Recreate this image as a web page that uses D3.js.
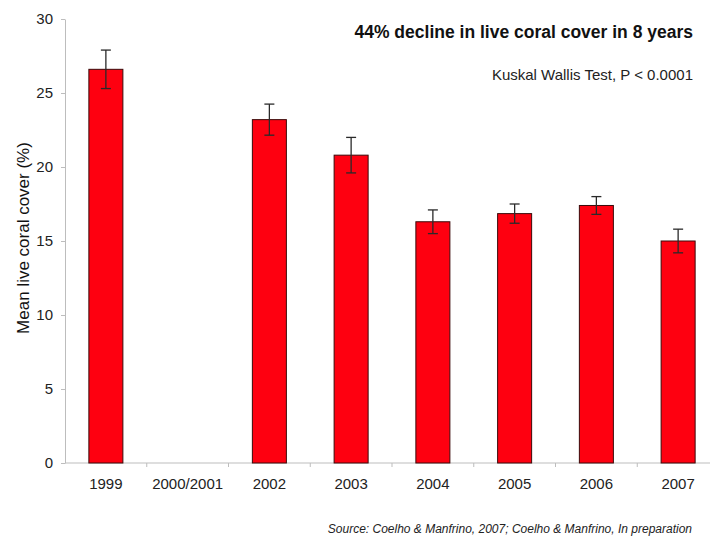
<!DOCTYPE html>
<html lang="en">
<head>
<meta charset="UTF-8">
<title>Live coral cover</title>
<script src="https://d3js.org/d3.v7.min.js"></script>
<style>
  body { margin: 0; background: #fff; }
  svg { display: block; font-family: "Liberation Sans", Arial, sans-serif; }
</style>
</head>
<body>
<svg width="710" height="540"></svg>
<script>
// data
const years = ["1999", "2000/2001", "2002", "2003", "2004", "2005", "2006", "2007"];
const cover = [26.6, null, 23.2, 20.8, 16.3, 16.85, 17.4, 15.0];
const stdErr = [1.3, null, 1.05, 1.2, 0.8, 0.65, 0.6, 0.8];
const yTicks = [0, 5, 10, 15, 20, 25, 30];

let svg = d3.select("svg")
let plotLeft = 65, plotRight = 719, plotTop = 19, plotBottom = 463

let x = d3.scaleBand()
    .domain(years)
    .range([plotLeft, plotRight])
    .paddingInner(0.584)
    .paddingOuter(0.292)
let y = d3.scaleLinear().domain([0, 30]).range([plotBottom, plotTop])

let rows = years.map(function (d, i) { return { year: d, v: cover[i], e: stdErr[i] } })
    .filter(function (d) { return d.v != null })

// y axis
let yAxis = svg.append("g")
    .attr("transform", `translate(${plotLeft},0)`)
    .call(d3.axisLeft(y).tickValues(yTicks).tickSize(4).tickPadding(8).tickSizeOuter(0))
yAxis.select(".domain").attr("stroke", "#bdbdbd")
yAxis.selectAll(".tick line").attr("stroke", "#bdbdbd")
yAxis.selectAll(".tick text")
    .attr("font-size", 15)
    .attr("fill", "#222")
    .attr("font-family", "Liberation Sans, Arial, sans-serif")

// x axis: labels centred under bands, ticks at band edges
let xAxis = svg.append("g")
    .attr("transform", `translate(0,${plotBottom})`)
    .call(d3.axisBottom(x).tickSize(0).tickPadding(15))
xAxis.select(".domain").remove()
xAxis.selectAll(".tick text")
    .attr("font-size", 15)
    .attr("fill", "#222")
    .attr("font-family", "Liberation Sans, Arial, sans-serif")
svg.append("line")
    .attr("x1", plotLeft).attr("x2", 710)
    .attr("y1", plotBottom).attr("y2", plotBottom)
    .attr("stroke", "#bdbdbd")
let edges = years.map(function (d) { return x(d) - (x.step() - x.bandwidth()) / 2 })
svg.append("g").selectAll("line")
    .data(edges.slice(1))
    .enter().append("line")
    .attr("x1", function (d) { return d }).attr("x2", function (d) { return d })
    .attr("y1", plotBottom).attr("y2", plotBottom + 4)
    .attr("stroke", "#bdbdbd")

// bars
svg.append("g").selectAll("rect")
    .data(rows)
    .enter().append("rect")
    .attr("x", function (d) { return x(d.year) })
    .attr("y", function (d) { return y(d.v) })
    .attr("width", x.bandwidth())
    .attr("height", function (d) { return y(0) - y(d.v) })
    .attr("fill", "#fe0010")
    .attr("stroke", "#3a0a0a")
    .attr("stroke-width", 1)

// error bars
let err = svg.append("g").attr("stroke", "#2a2a2a").attr("stroke-width", 1.3)
rows.forEach(function (d) {
    let cx = x(d.year) + x.bandwidth() / 2
    err.append("line").attr("x1", cx).attr("x2", cx)
        .attr("y1", y(d.v + d.e)).attr("y2", y(d.v - d.e))
    err.append("line").attr("x1", cx - 5).attr("x2", cx + 5)
        .attr("y1", y(d.v + d.e)).attr("y2", y(d.v + d.e))
    err.append("line").attr("x1", cx - 5).attr("x2", cx + 5)
        .attr("y1", y(d.v - d.e)).attr("y2", y(d.v - d.e))
})

// texts
svg.append("text")
    .attr("x", 693).attr("y", 38)
    .attr("text-anchor", "end")
    .attr("font-size", 17.5).attr("font-weight", "bold")
    .attr("fill", "#111")
    .text("44% decline in live coral cover in 8 years")
svg.append("text")
    .attr("x", 693).attr("y", 80)
    .attr("text-anchor", "end")
    .attr("font-size", 15)
    .attr("fill", "#222")
    .text("Kuskal Wallis Test, P < 0.0001")
svg.append("text")
    .attr("transform", "translate(29,238) rotate(-90)")
    .attr("text-anchor", "middle")
    .attr("font-size", 17)
    .attr("fill", "#111")
    .text("Mean live coral cover (%)")
svg.append("text")
    .attr("x", 692).attr("y", 533)
    .attr("text-anchor", "end")
    .attr("font-size", 12).attr("font-style", "italic")
    .attr("fill", "#222")
    .text("Source: Coelho & Manfrino, 2007; Coelho & Manfrino, In preparation")
</script>
</body>
</html>
